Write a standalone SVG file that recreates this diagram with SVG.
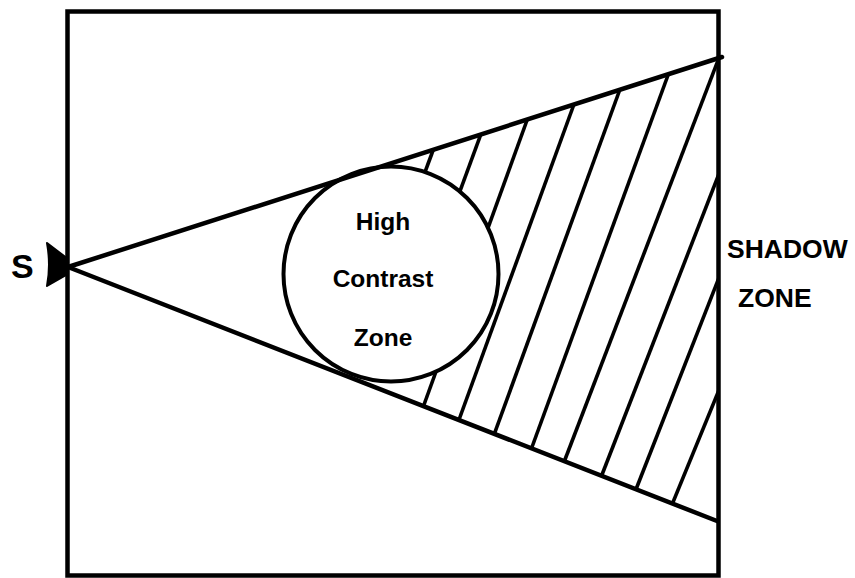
<svg xmlns="http://www.w3.org/2000/svg" width="855" height="578" viewBox="0 0 855 578">
<style>
.ln{stroke:#000;stroke-linecap:round;fill:none}
.hatch line{stroke:#000;stroke-width:3.6;stroke-linecap:butt}
.t{font-family:"Liberation Sans",Arial,sans-serif;font-weight:bold;fill:#000}
</style>
<defs>
<clipPath id="tri"><polygon points="68,267 719,58 717,521"/></clipPath>
</defs>
<rect x="0" y="0" width="855" height="578" fill="#fff"/>
<g id="frame"><rect x="67.5" y="11.5" width="651" height="564" fill="none" stroke="#000" stroke-width="4.5"/></g>
<g id="shadow-hatch" class="hatch" clip-path="url(#tri)">
<line x1="438" y1="137" x2="372" y2="315"/>
<line x1="485" y1="123" x2="420" y2="300"/>
<line x1="530" y1="112" x2="421" y2="413"/>
<line x1="577" y1="96" x2="456" y2="428"/>
<line x1="623" y1="81" x2="491" y2="443"/>
<line x1="671" y1="67" x2="528" y2="458"/>
<line x1="722" y1="50" x2="561" y2="470"/>
<line x1="722" y1="166" x2="598" y2="485"/>
<line x1="722" y1="270" x2="633" y2="497"/>
<line x1="721" y1="385" x2="669" y2="512"/>
</g>
<g id="high-contrast-zone">
<circle cx="391" cy="274" r="107.5" fill="#fff" stroke="#000" stroke-width="4"/>
<text class="t" font-size="24.5" text-anchor="middle" x="383" y="230">High</text>
<text class="t" font-size="24.5" text-anchor="middle" x="383" y="287">Contrast</text>
<text class="t" font-size="24.5" text-anchor="middle" x="383" y="346">Zone</text>
</g>
<g id="connectors">
<line class="ln" stroke-width="4.5" x1="68" y1="267" x2="722" y2="57"/>
<line class="ln" stroke-width="4.5" x1="68" y1="267" x2="717" y2="521"/>
</g>
<g id="source">
<path d="M47,243 L68,259 L68,274 L47,286 Q51,265 47,243 Z" fill="#000" stroke="#000" stroke-width="2" stroke-linejoin="round"/>
<text class="t" font-size="34" x="11" y="278">S</text>
</g>
<g id="shadow-zone-label">
<text class="t" font-size="26.5" x="727" y="258">SHADOW</text>
<text class="t" font-size="26.5" x="738" y="307">ZONE</text>
</g>
</svg>
